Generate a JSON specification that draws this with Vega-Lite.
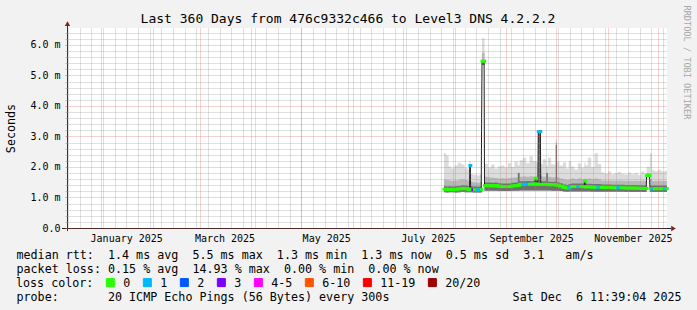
{
  "$schema": "https://vega.github.io/schema/vega-lite/v6.json",
  "width": 600,
  "height": 200,
  "autosize": "none",
  "padding": {"left": 67, "top": 28, "right": 30, "bottom": 82},
  "background": "#f2f2f2",
  "config": {"view": {"stroke": null, "fill": "#ffffff"}, "font": "DejaVu Sans Mono"},
  "title": {"text": "Last 360 Days from 476c9332c466 to Level3 DNS 4.2.2.2", "font": "DejaVu Sans Mono", "fontSize": 13, "fontWeight": "normal", "color": "#000000", "anchor": "middle", "frame": "group", "dx": -19, "offset": -31, "baseline": "alphabetic"},
  "data": {"values": [
    {"t":"2025-07-25T16:00:00Z","t2":"2025-07-27T00:00:00Z","lo":1.17,"h3":1.37,"h2":1.60,"hi":2.45,"med":1.27,"loss":"0"},
    {"t":"2025-07-27T00:00:00Z","t2":"2025-07-28T12:00:00Z","lo":1.16,"h3":1.36,"h2":1.58,"hi":2.38,"med":1.26,"loss":"0"},
    {"t":"2025-07-28T12:00:00Z","t2":"2025-07-30T00:00:00Z","lo":1.17,"h3":1.37,"h2":1.56,"hi":2.02,"med":1.27,"loss":"0"},
    {"t":"2025-07-30T00:00:00Z","t2":"2025-08-01T00:00:00Z","lo":1.17,"h3":1.36,"h2":1.54,"hi":1.95,"med":1.26,"loss":"0"},
    {"t":"2025-08-01T00:00:00Z","t2":"2025-08-03T00:00:00Z","lo":1.16,"h3":1.37,"h2":1.56,"hi":2.05,"med":1.27,"loss":"0"},
    {"t":"2025-08-03T00:00:00Z","t2":"2025-08-05T00:00:00Z","lo":1.17,"h3":1.38,"h2":1.58,"hi":2.14,"med":1.28,"loss":"0"},
    {"t":"2025-08-05T00:00:00Z","t2":"2025-08-07T00:00:00Z","lo":1.18,"h3":1.40,"h2":1.60,"hi":2.08,"med":1.30,"loss":"0"},
    {"t":"2025-08-07T00:00:00Z","t2":"2025-08-09T00:00:00Z","lo":1.17,"h3":1.39,"h2":1.57,"hi":1.96,"med":1.29,"loss":"0"},
    {"t":"2025-08-09T00:00:00Z","t2":"2025-08-10T00:00:00Z","lo":1.17,"h3":1.37,"h2":1.54,"hi":1.92,"med":1.27,"loss":"0"},
    {"t":"2025-08-10T00:00:00Z","t2":"2025-08-10T06:00:00Z","lo":1.17,"h3":1.37,"h2":1.54,"hi":2.20,"med":1.27,"loss":"0"},
    {"t":"2025-08-10T06:00:00Z","t2":"2025-08-10T18:00:00Z","lo":1.17,"h3":2.00,"h2":2.05,"hi":2.20,"med":2.05,"loss":"1"},
    {"t":"2025-08-10T18:00:00Z","t2":"2025-08-12T00:00:00Z","lo":1.17,"h3":1.37,"h2":1.52,"hi":1.78,"med":1.27,"loss":"0"},
    {"t":"2025-08-12T00:00:00Z","t2":"2025-08-13T00:00:00Z","lo":1.16,"h3":1.36,"h2":1.50,"hi":1.74,"med":1.26,"loss":"3"},
    {"t":"2025-08-13T00:00:00Z","t2":"2025-08-14T12:00:00Z","lo":1.16,"h3":1.36,"h2":1.50,"hi":1.76,"med":1.26,"loss":"0"},
    {"t":"2025-08-14T12:00:00Z","t2":"2025-08-16T00:00:00Z","lo":1.16,"h3":1.35,"h2":1.48,"hi":1.72,"med":1.25,"loss":"1"},
    {"t":"2025-08-16T00:00:00Z","t2":"2025-08-17T00:00:00Z","lo":1.16,"h3":1.36,"h2":1.50,"hi":1.75,"med":1.26,"loss":"1"},
    {"t":"2025-08-17T00:00:00Z","t2":"2025-08-17T12:00:00Z","lo":1.17,"h3":1.37,"h2":1.52,"hi":1.80,"med":1.27,"loss":"0"},
    {"t":"2025-08-17T12:00:00Z","t2":"2025-08-18T18:00:00Z","lo":5.35,"h3":5.50,"h2":5.75,"hi":6.22,"med":5.47,"loss":"0"},
    {"t":"2025-08-18T18:00:00Z","t2":"2025-08-19T00:00:00Z","lo":5.35,"h3":5.50,"h2":5.75,"hi":6.22,"med":5.47,"loss":"0"},
    {"t":"2025-08-19T00:00:00Z","t2":"2025-08-21T00:00:00Z","lo":1.22,"h3":1.49,"h2":1.68,"hi":2.10,"med":1.39,"loss":"0"},
    {"t":"2025-08-21T00:00:00Z","t2":"2025-08-23T00:00:00Z","lo":1.22,"h3":1.49,"h2":1.66,"hi":1.98,"med":1.39,"loss":"0"},
    {"t":"2025-08-23T00:00:00Z","t2":"2025-08-25T00:00:00Z","lo":1.22,"h3":1.48,"h2":1.65,"hi":2.08,"med":1.38,"loss":"0"},
    {"t":"2025-08-25T00:00:00Z","t2":"2025-08-27T00:00:00Z","lo":1.22,"h3":1.49,"h2":1.64,"hi":1.95,"med":1.39,"loss":"0"},
    {"t":"2025-08-27T00:00:00Z","t2":"2025-08-29T00:00:00Z","lo":1.21,"h3":1.47,"h2":1.62,"hi":2.02,"med":1.37,"loss":"0"},
    {"t":"2025-08-29T00:00:00Z","t2":"2025-08-31T00:00:00Z","lo":1.21,"h3":1.46,"h2":1.63,"hi":2.05,"med":1.36,"loss":"0"},
    {"t":"2025-08-31T00:00:00Z","t2":"2025-09-02T00:00:00Z","lo":1.21,"h3":1.46,"h2":1.62,"hi":1.98,"med":1.36,"loss":"0"},
    {"t":"2025-09-02T00:00:00Z","t2":"2025-09-04T00:00:00Z","lo":1.21,"h3":1.46,"h2":1.64,"hi":2.12,"med":1.36,"loss":"0"},
    {"t":"2025-09-04T00:00:00Z","t2":"2025-09-06T00:00:00Z","lo":1.22,"h3":1.48,"h2":1.65,"hi":2.00,"med":1.38,"loss":"0"},
    {"t":"2025-09-06T00:00:00Z","t2":"2025-09-08T00:00:00Z","lo":1.22,"h3":1.49,"h2":1.66,"hi":2.18,"med":1.39,"loss":"0"},
    {"t":"2025-09-08T00:00:00Z","t2":"2025-09-09T00:00:00Z","lo":1.22,"h3":1.80,"h2":1.82,"hi":2.05,"med":1.40,"loss":"0"},
    {"t":"2025-09-09T00:00:00Z","t2":"2025-09-11T00:00:00Z","lo":1.23,"h3":1.53,"h2":1.68,"hi":2.22,"med":1.43,"loss":"0"},
    {"t":"2025-09-11T00:00:00Z","t2":"2025-09-13T00:00:00Z","lo":1.23,"h3":1.53,"h2":1.70,"hi":2.30,"med":1.43,"loss":"1"},
    {"t":"2025-09-13T00:00:00Z","t2":"2025-09-15T00:00:00Z","lo":1.23,"h3":1.54,"h2":1.68,"hi":2.12,"med":1.44,"loss":"1"},
    {"t":"2025-09-15T00:00:00Z","t2":"2025-09-17T00:00:00Z","lo":1.23,"h3":1.53,"h2":1.70,"hi":2.35,"med":1.43,"loss":"0"},
    {"t":"2025-09-17T00:00:00Z","t2":"2025-09-18T06:00:00Z","lo":1.23,"h3":1.54,"h2":1.68,"hi":2.20,"med":1.44,"loss":"0"},
    {"t":"2025-09-18T06:00:00Z","t2":"2025-09-18T12:00:00Z","lo":1.23,"h3":1.54,"h2":1.68,"hi":2.18,"med":1.44,"loss":"0"},
    {"t":"2025-09-18T12:00:00Z","t2":"2025-09-19T06:00:00Z","lo":1.23,"h3":1.63,"h2":1.70,"hi":2.20,"med":1.63,"loss":"0"},
    {"t":"2025-09-19T06:00:00Z","t2":"2025-09-20T00:00:00Z","lo":1.23,"h3":1.54,"h2":1.68,"hi":2.15,"med":1.44,"loss":"0"},
    {"t":"2025-09-20T00:00:00Z","t2":"2025-09-20T06:00:00Z","lo":1.23,"h3":1.53,"h2":1.68,"hi":2.10,"med":1.43,"loss":"0"},
    {"t":"2025-09-20T06:00:00Z","t2":"2025-09-21T12:00:00Z","lo":1.23,"h3":3.10,"h2":3.18,"hi":3.21,"med":3.16,"loss":"1"},
    {"t":"2025-09-21T12:00:00Z","t2":"2025-09-21T18:00:00Z","lo":1.23,"h3":3.10,"h2":3.18,"hi":3.21,"med":3.16,"loss":"1"},
    {"t":"2025-09-21T18:00:00Z","t2":"2025-09-23T00:00:00Z","lo":1.23,"h3":1.53,"h2":1.70,"hi":2.10,"med":1.43,"loss":"0"},
    {"t":"2025-09-23T00:00:00Z","t2":"2025-09-25T00:00:00Z","lo":1.23,"h3":1.53,"h2":1.68,"hi":2.25,"med":1.43,"loss":"0"},
    {"t":"2025-09-25T00:00:00Z","t2":"2025-09-26T00:00:00Z","lo":1.23,"h3":1.80,"h2":1.82,"hi":2.05,"med":1.43,"loss":"0"},
    {"t":"2025-09-26T00:00:00Z","t2":"2025-09-28T00:00:00Z","lo":1.23,"h3":1.52,"h2":1.68,"hi":2.30,"med":1.42,"loss":"0"},
    {"t":"2025-09-28T00:00:00Z","t2":"2025-09-30T18:00:00Z","lo":1.22,"h3":1.52,"h2":1.66,"hi":2.08,"med":1.42,"loss":"0"},
    {"t":"2025-09-30T18:00:00Z","t2":"2025-10-01T12:00:00Z","lo":1.22,"h3":2.72,"h2":2.80,"hi":2.89,"med":1.41,"loss":"0"},
    {"t":"2025-10-01T12:00:00Z","t2":"2025-10-03T00:00:00Z","lo":1.22,"h3":1.50,"h2":1.66,"hi":2.18,"med":1.40,"loss":"0"},
    {"t":"2025-10-03T00:00:00Z","t2":"2025-10-05T00:00:00Z","lo":1.21,"h3":1.47,"h2":1.62,"hi":2.05,"med":1.37,"loss":"0"},
    {"t":"2025-10-05T00:00:00Z","t2":"2025-10-07T00:00:00Z","lo":1.20,"h3":1.43,"h2":1.60,"hi":2.15,"med":1.33,"loss":"0"},
    {"t":"2025-10-07T00:00:00Z","t2":"2025-10-08T12:00:00Z","lo":1.19,"h3":1.41,"h2":1.58,"hi":1.95,"med":1.31,"loss":"0"},
    {"t":"2025-10-08T12:00:00Z","t2":"2025-10-10T00:00:00Z","lo":1.20,"h3":1.44,"h2":1.60,"hi":2.20,"med":1.34,"loss":"1"},
    {"t":"2025-10-10T00:00:00Z","t2":"2025-10-12T00:00:00Z","lo":1.20,"h3":1.46,"h2":1.62,"hi":2.02,"med":1.36,"loss":"0"},
    {"t":"2025-10-12T00:00:00Z","t2":"2025-10-14T00:00:00Z","lo":1.20,"h3":1.46,"h2":1.60,"hi":1.92,"med":1.36,"loss":"0"},
    {"t":"2025-10-14T00:00:00Z","t2":"2025-10-16T00:00:00Z","lo":1.20,"h3":1.46,"h2":1.62,"hi":2.12,"med":1.36,"loss":"1"},
    {"t":"2025-10-16T00:00:00Z","t2":"2025-10-17T18:00:00Z","lo":1.20,"h3":1.46,"h2":1.60,"hi":1.98,"med":1.36,"loss":"0"},
    {"t":"2025-10-17T18:00:00Z","t2":"2025-10-18T00:00:00Z","lo":1.20,"h3":1.45,"h2":1.60,"hi":2.05,"med":1.35,"loss":"0"},
    {"t":"2025-10-18T00:00:00Z","t2":"2025-10-18T18:00:00Z","lo":1.20,"h3":1.54,"h2":1.62,"hi":2.15,"med":1.54,"loss":"0"},
    {"t":"2025-10-18T18:00:00Z","t2":"2025-10-20T00:00:00Z","lo":1.20,"h3":1.45,"h2":1.60,"hi":2.05,"med":1.35,"loss":"0"},
    {"t":"2025-10-20T00:00:00Z","t2":"2025-10-22T00:00:00Z","lo":1.20,"h3":1.45,"h2":1.62,"hi":2.30,"med":1.35,"loss":"0"},
    {"t":"2025-10-22T00:00:00Z","t2":"2025-10-24T00:00:00Z","lo":1.19,"h3":1.44,"h2":1.60,"hi":2.00,"med":1.34,"loss":"0"},
    {"t":"2025-10-24T00:00:00Z","t2":"2025-10-26T00:00:00Z","lo":1.19,"h3":1.44,"h2":1.62,"hi":2.45,"med":1.34,"loss":"0"},
    {"t":"2025-10-26T00:00:00Z","t2":"2025-10-28T00:00:00Z","lo":1.19,"h3":1.44,"h2":1.60,"hi":2.10,"med":1.34,"loss":"1"},
    {"t":"2025-10-28T00:00:00Z","t2":"2025-10-30T00:00:00Z","lo":1.19,"h3":1.43,"h2":1.56,"hi":1.82,"med":1.33,"loss":"0"},
    {"t":"2025-10-30T00:00:00Z","t2":"2025-11-01T00:00:00Z","lo":1.19,"h3":1.43,"h2":1.55,"hi":1.78,"med":1.33,"loss":"0"},
    {"t":"2025-11-01T00:00:00Z","t2":"2025-11-03T00:00:00Z","lo":1.19,"h3":1.43,"h2":1.56,"hi":1.85,"med":1.33,"loss":"0"},
    {"t":"2025-11-03T00:00:00Z","t2":"2025-11-05T00:00:00Z","lo":1.19,"h3":1.42,"h2":1.55,"hi":1.76,"med":1.32,"loss":"0"},
    {"t":"2025-11-05T00:00:00Z","t2":"2025-11-07T00:00:00Z","lo":1.19,"h3":1.42,"h2":1.55,"hi":1.80,"med":1.32,"loss":"0"},
    {"t":"2025-11-07T00:00:00Z","t2":"2025-11-09T00:00:00Z","lo":1.19,"h3":1.42,"h2":1.56,"hi":1.84,"med":1.32,"loss":"1"},
    {"t":"2025-11-09T00:00:00Z","t2":"2025-11-11T00:00:00Z","lo":1.19,"h3":1.42,"h2":1.55,"hi":1.78,"med":1.32,"loss":"0"},
    {"t":"2025-11-11T00:00:00Z","t2":"2025-11-13T00:00:00Z","lo":1.18,"h3":1.41,"h2":1.54,"hi":1.75,"med":1.31,"loss":"0"},
    {"t":"2025-11-13T00:00:00Z","t2":"2025-11-15T00:00:00Z","lo":1.18,"h3":1.41,"h2":1.55,"hi":1.82,"med":1.31,"loss":"0"},
    {"t":"2025-11-15T00:00:00Z","t2":"2025-11-17T00:00:00Z","lo":1.18,"h3":1.41,"h2":1.54,"hi":1.76,"med":1.31,"loss":"0"},
    {"t":"2025-11-17T00:00:00Z","t2":"2025-11-19T00:00:00Z","lo":1.18,"h3":1.41,"h2":1.55,"hi":1.80,"med":1.31,"loss":"0"},
    {"t":"2025-11-19T00:00:00Z","t2":"2025-11-21T00:00:00Z","lo":1.18,"h3":1.40,"h2":1.54,"hi":1.74,"med":1.30,"loss":"0"},
    {"t":"2025-11-21T00:00:00Z","t2":"2025-11-23T00:00:00Z","lo":1.18,"h3":1.40,"h2":1.55,"hi":1.85,"med":1.30,"loss":"0"},
    {"t":"2025-11-23T00:00:00Z","t2":"2025-11-24T00:00:00Z","lo":1.18,"h3":1.40,"h2":1.54,"hi":1.78,"med":1.30,"loss":"0"},
    {"t":"2025-11-24T00:00:00Z","t2":"2025-11-24T06:00:00Z","lo":1.18,"h3":1.40,"h2":1.54,"hi":1.80,"med":1.30,"loss":"0"},
    {"t":"2025-11-24T06:00:00Z","t2":"2025-11-26T00:00:00Z","lo":1.68,"h3":1.72,"h2":1.80,"hi":2.00,"med":1.72,"loss":"0"},
    {"t":"2025-11-26T00:00:00Z","t2":"2025-11-26T06:00:00Z","lo":1.68,"h3":1.72,"h2":1.80,"hi":2.00,"med":1.72,"loss":"0"},
    {"t":"2025-11-26T06:00:00Z","t2":"2025-11-27T12:00:00Z","lo":1.18,"h3":1.39,"h2":1.60,"hi":2.45,"med":1.29,"loss":"0"},
    {"t":"2025-11-27T12:00:00Z","t2":"2025-11-29T00:00:00Z","lo":1.18,"h3":1.39,"h2":1.54,"hi":1.90,"med":1.29,"loss":"1"},
    {"t":"2025-11-29T00:00:00Z","t2":"2025-12-01T00:00:00Z","lo":1.18,"h3":1.39,"h2":1.54,"hi":1.86,"med":1.29,"loss":"0"},
    {"t":"2025-12-01T00:00:00Z","t2":"2025-12-03T00:00:00Z","lo":1.18,"h3":1.39,"h2":1.55,"hi":1.90,"med":1.29,"loss":"0"},
    {"t":"2025-12-03T00:00:00Z","t2":"2025-12-05T00:00:00Z","lo":1.18,"h3":1.39,"h2":1.54,"hi":1.85,"med":1.29,"loss":"0"},
    {"t":"2025-12-05T00:00:00Z","t2":"2025-12-06T11:00:00Z","lo":1.18,"h3":1.39,"h2":1.54,"hi":1.88,"med":1.29,"loss":"1"},
    {"t":"2025-12-06T11:00:00Z","t2":"2025-12-06T11:39:04Z","lo":1.18,"h3":1.39,"h2":1.54,"hi":1.88,"med":1.29,"loss":"0"}
  ]},
  "layer": [
    {
      "mark": {"type": "area", "interpolate": "step-after", "color": "#dcdcdc"},
      "encoding": {
        "x": {"field": "t", "type": "temporal", "scale": {"type": "utc", "domain": [1733917144000, 1765021144000]},
          "axis": {"orient": "bottom", "values": [1733961600000,1734566400000,1735171200000,1735776000000,1736380800000,1736985600000,1737590400000,1738195200000,1738800000000,1739404800000,1740009600000,1740614400000,1741219200000,1741824000000,1742428800000,1743033600000,1743638400000,1744243200000,1744848000000,1745452800000,1746057600000,1746662400000,1747267200000,1747872000000,1748476800000,1749081600000,1749686400000,1750291200000,1750896000000,1751500800000,1752105600000,1752710400000,1753315200000,1753920000000,1754524800000,1755129600000,1755734400000,1756339200000,1756944000000,1757548800000,1758153600000,1758758400000,1759363200000,1759968000000,1760572800000,1761177600000,1761782400000,1762387200000,1762992000000,1763596800000,1764201600000,1764806400000],
            "grid": true, "gridColor": "#8f8f8f", "gridOpacity": 0.55, "gridDash": [1, 1], "gridWidth": 1,
            "labels": false, "ticks": false, "domain": false, "zindex": 1,
            "title": "probe:\u00a0\u00a0\u00a0\u00a0\u00a0\u00a0\u00a020 ICMP Echo Pings (56 Bytes) every 300s",
            "titleX": -51, "titleY": 72.4, "titleAlign": "left", "titleAnchor": "start", "titleBaseline": "alphabetic", "titleLimit": 1000,
            "titleFont": "DejaVu Sans Mono", "titleFontSize": 11.7, "titleFontWeight": "normal", "titleColor": "#000000"}},
        "y": {"field": "lo", "type": "quantitative", "scale": {"domain": [0, 6.557], "nice": false, "zero": false},
          "axis": {"orient": "left", "values": [0.2,0.4,0.6,0.8,1.2,1.4,1.6,1.8,2.2,2.4,2.6,2.8,3.2,3.4,3.6,3.8,4.2,4.4,4.6,4.8,5.2,5.4,5.6,5.8,6.2,6.4],
            "grid": true, "gridColor": "#8f8f8f", "gridOpacity": 0.55, "gridDash": [1, 1], "gridWidth": 1,
            "labels": false, "ticks": true, "tickSize": 2, "tickColor": "#8f8f8f", "tickOpacity": 0.6, "domain": false, "title": null, "zindex": 1}},
        "y2": {"field": "hi"}
      }
    },
    {
      "mark": {"type": "area", "interpolate": "step-after", "color": "#b8b8b8"},
      "encoding": {
        "x": {"field": "t", "type": "temporal", "scale": {"type": "utc", "domain": [1733917144000, 1765021144000]},
          "axis": {"orient": "bottom", "values": [1735689600000,1738368000000,1740787200000,1743465600000,1746057600000,1748736000000,1751328000000,1754006400000,1756684800000,1759276800000,1761955200000,1764547200000],
            "grid": true, "gridColor": "#de4f4f", "gridOpacity": 0.5, "gridDash": [1, 1], "gridWidth": 1,
            "labels": false, "ticks": false, "domain": false, "zindex": 1,
            "title": "Sat Dec\u00a0\u00a06 11:39:04 2025", "titleX": 614, "titleY": 72.4, "titleAlign": "right", "titleAnchor": "end", "titleBaseline": "alphabetic",
            "titleFont": "DejaVu Sans Mono", "titleFontSize": 11.7, "titleFontWeight": "normal", "titleColor": "#000000"}},
        "y": {"field": "lo", "type": "quantitative", "scale": {"domain": [0, 6.557], "nice": false, "zero": false},
          "axis": {"orient": "left", "values": [0, 1, 2, 3, 4, 5, 6],
            "grid": true, "gridColor": "#de4f4f", "gridOpacity": 0.5, "gridDash": [1, 1], "gridWidth": 1,
            "ticks": true, "tickSize": 2, "tickColor": "#de4f4f", "tickOpacity": 0.6, "domain": false, "zindex": 1,
            "labelExpr": "datum.value == 0 ? '0.0' : format(datum.value, '.1f') + ' m'",
            "labelFont": "DejaVu Sans Mono", "labelFontSize": 10, "labelColor": "#000000", "labelPadding": 5,
            "title": "Seconds", "titleX": -57, "titleY": 100, "titleAngle": 270, "titleAlign": "center", "titleBaseline": "middle",
            "titleFont": "DejaVu Sans Mono", "titleFontSize": 11.7, "titleFontWeight": "normal", "titleColor": "#000000"}},
        "y2": {"field": "h2"}
      }
    },
    {
      "mark": {"type": "area", "interpolate": "step-after", "color": "#707070"},
      "encoding": {
        "x": {"field": "t", "type": "temporal", "scale": {"type": "utc", "domain": [1733917144000, 1765021144000]},
          "axis": {"orient": "bottom", "values": [1736985600000, 1742083200000, 1747353600000, 1752624000000, 1757980800000, 1763251200000],
            "grid": false, "ticks": false, "tickSize": 0, "domain": false,
            "labelExpr": "utcFormat(datum.value, '%B %Y')", "labelFlush": false, "labelOverlap": false,
            "labelFont": "DejaVu Sans Mono", "labelFontSize": 10, "labelColor": "#000000", "labelPadding": 5,
            "title": ["median rtt:\u00a0\u00a01.4 ms avg\u00a0\u00a05.5 ms max\u00a0\u00a01.3 ms min\u00a0\u00a01.3 ms now\u00a0\u00a00.5 ms sd\u00a0\u00a03.1\u00a0\u00a0\u00a0am/s",
                      "packet loss: 0.15 % avg\u00a0\u00a014.93 % max\u00a0\u00a00.00 % min\u00a0\u00a00.00 % now"],
            "titleX": -51, "titleY": 30, "titleAlign": "left", "titleAnchor": "start", "titleBaseline": "alphabetic", "titleLineHeight": 14.15, "titleLimit": 1000,
            "titleFont": "DejaVu Sans Mono", "titleFontSize": 11.7, "titleFontWeight": "normal", "titleColor": "#000000"}},
        "y": {"field": "lo", "type": "quantitative", "scale": {"domain": [0, 6.557], "nice": false, "zero": false},
          "axis": {"orient": "right", "labels": false, "ticks": false, "grid": false, "domain": false,
            "title": "RRDTOOL / TOBI OETIKER", "titleX": 19.5, "titleY": -23, "titleAngle": 90, "titleAlign": "left", "titleBaseline": "middle",
            "titleFont": "DejaVu Sans Mono", "titleFontSize": 8.6, "titleFontWeight": "normal", "titleColor": "#a8a8a8"}},
        "y2": {"field": "h3"}
      }
    },
    {
      "mark": {"type": "line", "color": "#202020", "strokeWidth": 1, "interpolate": "linear"},
      "encoding": {
        "x": {"field": "t", "type": "temporal", "scale": {"type": "utc", "domain": [1733917144000, 1765021144000]}, "axis": null},
        "y": {"field": "med", "type": "quantitative", "scale": {"domain": [0, 6.557], "nice": false, "zero": false}, "axis": null}
      }
    },
    {
      "mark": {"type": "rule", "strokeWidth": 3, "strokeCap": "square"},
      "encoding": {
        "x": {"field": "t", "type": "temporal", "scale": {"type": "utc", "domain": [1733917144000, 1765021144000]}, "axis": null},
        "x2": {"field": "t2"},
        "y": {"field": "med", "type": "quantitative", "scale": {"domain": [0, 6.557], "nice": false, "zero": false}, "axis": null},
        "color": {"field": "loss", "type": "nominal",
          "scale": {"domain": ["0", "1", "2", "3", "4-5", "6-10", "11-19", "20/20"], "range": ["#26ff00", "#00b8ff", "#0059ff", "#7e00ff", "#ff00ff", "#ff5500", "#ff0000", "#a00000"]},
          "legend": {"orient": "none", "legendX": -51, "legendY": 248.5, "direction": "horizontal", "padding": 0,
            "title": "loss color:", "titleOrient": "left", "titlePadding": 10.5, "titleBaseline": "middle",
            "titleFont": "DejaVu Sans Mono", "titleFontSize": 11.7, "titleFontWeight": "normal", "titleColor": "#000000",
            "labelFont": "DejaVu Sans Mono", "labelFontSize": 11.7, "labelColor": "#000000", "labelOffset": 7, "columnPadding": 10,
            "symbolType": "square", "symbolSize": 64, "symbolStrokeWidth": 1, "symbolStrokeColor": "#000000",
            "encode": {"symbols": {"update": {"fill": {"scale": "color", "field": "value"}, "stroke": {"value": "#000000"}, "strokeWidth": {"value": 1}, "opacity": {"value": 1}, "fillOpacity": {"value": 1}}}}}}
      }
    },
    {
      "data": {"values": [{}]},
      "mark": {"type": "rule", "color": "#1f1f1f", "strokeWidth": 1, "yOffset": 0.5},
      "encoding": {
        "x": {"datum": 1733657944000, "type": "temporal", "scale": {"type": "utc", "domain": [1733917144000, 1765021144000]}, "axis": null},
        "x2": {"datum": 1765228504000},
        "y": {"datum": 0, "type": "quantitative", "scale": {"domain": [0, 6.557], "nice": false, "zero": false}, "axis": null}
      }
    },
    {
      "data": {"values": [{}]},
      "mark": {"type": "rule", "color": "#333333", "strokeWidth": 1, "xOffset": 0.5},
      "encoding": {
        "x": {"datum": 1733917144000, "type": "temporal", "scale": {"type": "utc", "domain": [1733917144000, 1765021144000]}, "axis": null},
        "y": {"datum": -0.1, "type": "quantitative", "scale": {"domain": [0, 6.557], "nice": false, "zero": false}, "axis": null},
        "y2": {"datum": 6.66}
      }
    },
    {
      "data": {"values": [{}]},
      "mark": {"type": "point", "shape": "triangle-right", "filled": true, "color": "#801f1f", "opacity": 1, "size": 28, "yOffset": 0.5},
      "encoding": {
        "x": {"datum": 1765358104000, "type": "temporal", "scale": {"type": "utc", "domain": [1733917144000, 1765021144000]}, "axis": null},
        "y": {"datum": 0, "type": "quantitative", "scale": {"domain": [0, 6.557], "nice": false, "zero": false}, "axis": null}
      }
    },
    {
      "data": {"values": [{}]},
      "mark": {"type": "point", "shape": "triangle-up", "filled": true, "color": "#801f1f", "opacity": 1, "size": 28, "xOffset": 0.5},
      "encoding": {
        "x": {"datum": 1733917144000, "type": "temporal", "scale": {"type": "utc", "domain": [1733917144000, 1765021144000]}, "axis": null},
        "y": {"datum": 6.70, "type": "quantitative", "scale": {"domain": [0, 6.557], "nice": false, "zero": false}, "axis": null}
      }
    }
  ],
  "resolve": {"axis": {"x": "independent", "y": "independent"}}
}
